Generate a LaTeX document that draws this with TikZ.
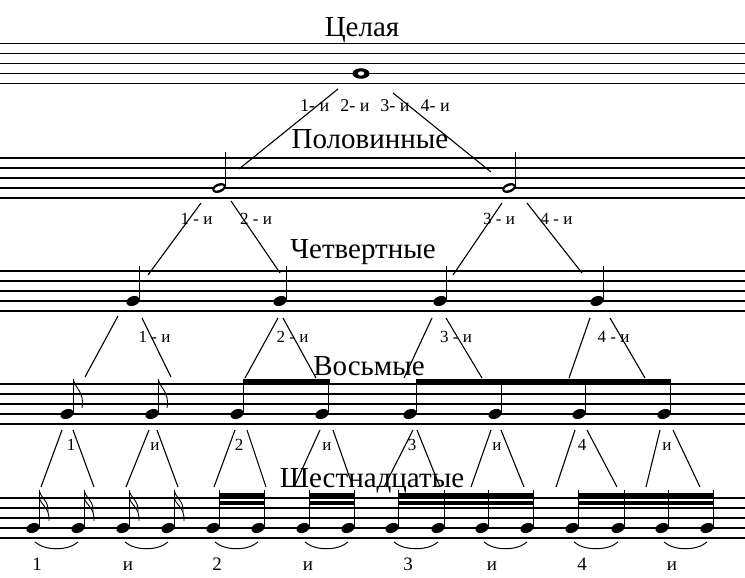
\documentclass[tikz,border=0pt]{standalone}
\usepackage{fontspec}
\setmainfont{Liberation Serif}
\usetikzlibrary{shapes.geometric}

\newcommand{\musicstaff}[1]{\foreach \k in {0,...,4}{\draw[staffline] (0,{#1+10*\k}) -- (745,{#1+10*\k});}}
\newcommand{\notestem}[3]{\draw[stem] ({#1+6.3},{#2-1}) -- ({#1+6.3},#3);}
\newcommand{\eighthflag}[2]{\draw[flag] ({#1+6.3},#2) .. controls ({#1+7.5},{#2+9}) and ({#1+18},{#2+13}) .. ({#1+15},{#2+29});}
\newcommand{\sixteenthflag}[2]{\draw[flag] ({#1+6.3},#2) .. controls ({#1+7},{#2+8}) and ({#1+16},{#2+10}) .. ({#1+15},{#2+22});
  \draw[flag] ({#1+6.3},{#2+7}) .. controls ({#1+7},{#2+15}) and ({#1+17},{#2+17}) .. ({#1+16},{#2+31});}
\newcommand{\slur}[2]{\draw[slur] ([shift={(2,14)}]#1.center) .. controls +(10pt,-9pt) and +(-10pt,-9pt) .. ([shift={(0,14)}]#2.center);}

\begin{document}
\begin{tikzpicture}[x=1pt,y=-1pt,
    staffline/.style={line width=1.3pt},
    link/.style={line width=1.1pt},
    stem/.style={line width=1.2pt},
    flag/.style={line width=0.9pt},
    slur/.style={line width=1pt},
    beam/.style={fill=black},
    title/.style={font=\fontsize{29}{32}\selectfont,anchor=base,inner sep=0},
    count/.style={font=\fontsize{17}{20}\selectfont,anchor=base,inner sep=0},
    qnote/.style={ellipse,fill,inner sep=0,minimum width=13.5pt,minimum height=9.5pt,rotate=22},
    hnote/.style={ellipse,fill,inner sep=0,minimum width=14pt,minimum height=9pt,rotate=22,
        path picture={\fill[white,rotate=40] (path picture bounding box.center) ellipse (5pt and 2pt);}},
    wnote/.style={ellipse,fill,inner sep=0,minimum width=17pt,minimum height=10.5pt,
        path picture={\fill[white,rotate=60] (path picture bounding box.center) ellipse (3.2pt and 2.2pt);}}
]
\useasboundingbox (0,0) rectangle (745,578);

\musicstaff{43.5}
\musicstaff{158}
\musicstaff{271}
\musicstaff{384}
\musicstaff{498}

\node[title] (t1) at (362,37) {Целая};
\node[title] (t2) at (370,148) {Половинные};
\node[title] (t3) at (363,258) {Четвертные};
\node[title] (t4) at (369,375) {Восьмые};
\node[title] (t5) at (372,487) {Шестнадцатые};

\node[wnote] (w) at (361,73.5) {};

\node[hnote] (h1) at (219,188) {};
\node[hnote] (h2) at (509,188) {};
\notestem{219}{188}{152}
\notestem{509}{188}{152}

\foreach \i/\x in {1/133,2/280,3/440,4/597}{
  \node[qnote] (q\i) at (\x,301) {};
  \notestem{\x}{301}{266}
}

\foreach \i/\x in {1/67,2/152,3/237,4/322,5/410,6/495,7/579,8/664}{
  \node[qnote] (e\i) at (\x,414) {};
  \notestem{\x}{414}{379}
}
\eighthflag{67}{379}
\eighthflag{152}{379}
\fill[beam] (242.7,379) rectangle (329.9,385);
\fill[beam] (415.7,379) rectangle (670.9,385);

\foreach \i/\x in {1/33,2/78,3/123,4/168,5/213,6/258,7/303,8/348,9/392,10/438,11/482,12/527,13/572,14/618,15/662,16/707}{
  \node[qnote] (s\i) at (\x,528) {};
  \notestem{\x}{528}{490}
}
\sixteenthflag{33}{490}
\sixteenthflag{78}{490}
\sixteenthflag{123}{490}
\sixteenthflag{168}{490}
\fill[beam] (218.7,493) rectangle (264.9,497.5);
\fill[beam] (218.7,500.5) rectangle (264.9,505);
\fill[beam] (308.7,493) rectangle (354.9,497.5);
\fill[beam] (308.7,500.5) rectangle (354.9,505);
\fill[beam] (397.7,493) rectangle (533.9,497.5);
\fill[beam] (397.7,500.5) rectangle (533.9,505);
\fill[beam] (577.7,493) rectangle (713.9,497.5);
\fill[beam] (577.7,500.5) rectangle (713.9,505);

\slur{s1}{s2}
\slur{s3}{s4}
\slur{s5}{s6}
\slur{s7}{s8}
\slur{s9}{s10}
\slur{s11}{s12}
\slur{s13}{s14}
\slur{s15}{s16}

\node[count,font=\fontsize{18}{20}\selectfont] (c0) at (375,112) {1- и\hspace{11pt}2- и\hspace{11pt}3- и\hspace{11pt}4- и};

\node[count] (c11) at (196.5,224) {1 - и};
\node[count] (c12) at (256,224) {2 - и};
\node[count] (c13) at (499,224) {3 - и};
\node[count] (c14) at (556.5,224) {4 - и};

\node[count] (c21) at (154.5,342) {1 - и};
\node[count] (c22) at (292.5,342) {2 - и};
\node[count] (c23) at (456,342) {3 - и};
\node[count] (c24) at (613.5,342) {4 - и};

\node[count] (c31) at (71,450) {1};
\node[count] (c32) at (155,450) {и};
\node[count] (c33) at (239,450) {2};
\node[count] (c34) at (327,450) {и};
\node[count] (c35) at (412,450) {3};
\node[count] (c36) at (497,450) {и};
\node[count] (c37) at (582,450) {4};
\node[count] (c38) at (667,450) {и};

\node[count,font=\fontsize{19}{22}\selectfont] (c41) at (37,570) {1};
\node[count,font=\fontsize{19}{22}\selectfont] (c42) at (128,570) {и};
\node[count,font=\fontsize{19}{22}\selectfont] (c43) at (217,570) {2};
\node[count,font=\fontsize{19}{22}\selectfont] (c44) at (308,570) {и};
\node[count,font=\fontsize{19}{22}\selectfont] (c45) at (408,570) {3};
\node[count,font=\fontsize{19}{22}\selectfont] (c46) at (492,570) {и};
\node[count,font=\fontsize{19}{22}\selectfont] (c47) at (582,570) {4};
\node[count,font=\fontsize{19}{22}\selectfont] (c48) at (672,570) {и};

\draw[link] ([shift={(-23,15.5)}]w.center) -- ([shift={(20,-19)}]h1.center);
\draw[link] ([shift={(32,19.5)}]w.center) -- ([shift={(-18,-16)}]h2.center);

\draw[link] ([shift={(-18,15)}]h1.center) -- ([shift={(15,-26)}]q1.center);
\draw[link] ([shift={(12,13)}]h1.center) -- ([shift={(0,-28)}]q2.center);
\draw[link] ([shift={(-7,15)}]h2.center) -- ([shift={(13,-26)}]q3.center);
\draw[link] ([shift={(18,15)}]h2.center) -- ([shift={(-15,-28)}]q4.center);

\draw[link] ([shift={(-15,15)}]q1.center) -- ([shift={(18,-37)}]e1.center);
\draw[link] ([shift={(9,17)}]q1.center) -- ([shift={(19,-37)}]e2.center);
\draw[link] ([shift={(-2,17)}]q2.center) -- ([shift={(8,-36)}]e3.center);
\draw[link] ([shift={(3,17)}]q2.center) -- ([shift={(-6,-36)}]e4.center);
\draw[link] ([shift={(-8,17)}]q3.center) -- ([shift={(-6,-36)}]e5.center);
\draw[link] ([shift={(6,17)}]q3.center) -- ([shift={(-13,-36)}]e6.center);
\draw[link] ([shift={(-7,17)}]q4.center) -- ([shift={(-10,-36)}]e7.center);
\draw[link] ([shift={(13,17)}]q4.center) -- ([shift={(-19,-36)}]e8.center);

\draw[link] ([shift={(-5,16)}]e1.center) -- ([shift={(8,-41)}]s1.center);
\draw[link] ([shift={(6,16)}]e1.center) -- ([shift={(16,-41)}]s2.center);
\draw[link] ([shift={(-3,16)}]e2.center) -- ([shift={(3,-41)}]s3.center);
\draw[link] ([shift={(5,16)}]e2.center) -- ([shift={(10,-41)}]s4.center);
\draw[link] ([shift={(-2,16)}]e3.center) -- ([shift={(1,-41)}]s5.center);
\draw[link] ([shift={(10,16)}]e3.center) -- ([shift={(8,-41)}]s6.center);
\draw[link] ([shift={(-2,16)}]e4.center) -- ([shift={(-9,-41)}]s7.center);
\draw[link] ([shift={(11,16)}]e4.center) -- ([shift={(5,-41)}]s8.center);
\draw[link] ([shift={(3,16)}]e5.center) -- ([shift={(-8,-41)}]s9.center);
\draw[link] ([shift={(7,16)}]e5.center) -- ([shift={(2,-41)}]s10.center);
\draw[link] ([shift={(-4,16)}]e6.center) -- ([shift={(-11,-41)}]s11.center);
\draw[link] ([shift={(6,16)}]e6.center) -- ([shift={(-3,-41)}]s12.center);
\draw[link] ([shift={(-4,16)}]e7.center) -- ([shift={(-16,-41)}]s13.center);
\draw[link] ([shift={(8,16)}]e7.center) -- ([shift={(-1,-41)}]s14.center);
\draw[link] ([shift={(-4,16)}]e8.center) -- ([shift={(-16,-41)}]s15.center);
\draw[link] ([shift={(9,16)}]e8.center) -- ([shift={(-7,-41)}]s16.center);
\end{tikzpicture}
\end{document}
